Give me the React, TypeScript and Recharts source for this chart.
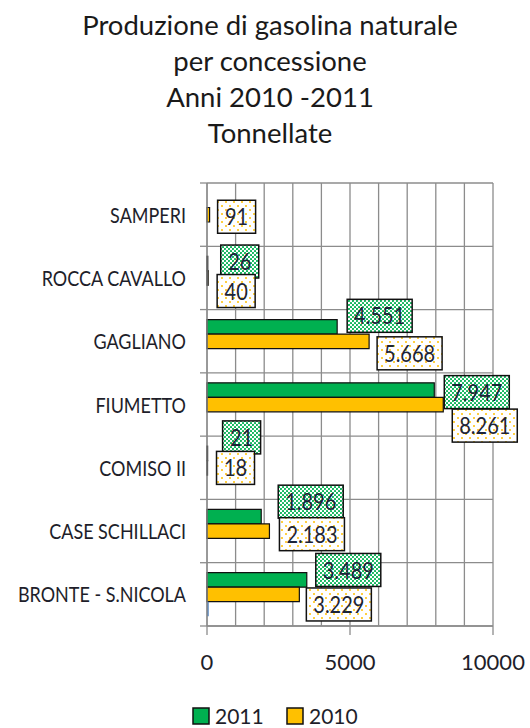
import React from "react";
import { BarChart, Bar, XAxis, YAxis, CartesianGrid, LabelList } from "recharts";

// dati (tonnellate)
const concessioni = ["SAMPERI", "ROCCA CAVALLO", "GAGLIANO", "FIUMETTO", "COMISO II", "CASE SCHILLACI", "BRONTE - S.NICOLA"];
const valori2011 = [null, 26, 4551, 7947, 21, 1896, 3489];
const valori2010 = [91, 40, 5668, 8261, 18, 2183, 3229];
const valoriAltro = [null, null, null, null, null, null, 60];
const tickValori = [0, 5000, 10000];
const passoGriglia = 1000;
const titolo = ["Produzione di gasolina naturale", "per concessione", "Anni 2010  -2011", "Tonnellate"];

// spostamento delle etichette [dx, dy] rispetto alla fine della barra
const spostamenti2011 = [[8, 0], [13, -2], [10, -11], [10, 2], [15, -16], [17, -15], [9, -10]];
const spostamenti2010 = [[8, 2], [9, 13], [8, 12], [9, 21], [9, 0], [10, 3], [7, 10]];

const VERDE = "#00B050";
const ARANCIO = "#FFC000";
const BLU = "#4F81BD";
const GRIGIO = "#8c8c8c";
const FONT = "Lato, 'Open Sans', sans-serif";

const W = 530;
const H = 728;
const TOP = 183;
const LEFT = 207;
const RIGHT = 37;
const BOTTOM = 102;
const ALTEZZA_BANDA = (H - TOP - BOTTOM) / concessioni.length;

const data = concessioni.map((nome, i) => ({
  nome,
  v2011: valori2011[i],
  v2010: valori2010[i],
  altro: valoriAltro[i],
}));

const formatta = (v: number) => v.toLocaleString("it-IT");

const creaEtichetta = (valori: (number | null)[], spostamenti: number[][], pattern: string) => (props: any) => {
  const { x, y, width, height, value } = props;
  if (value == null) return null;
  // l'indice di LabelList salta i valori nulli: cerco la concessione dal valore
  let i = valori.indexOf(Number(value));
  if (props.payload && props.payload.nome) i = concessioni.indexOf(props.payload.nome);
  const testo = formatta(Number(value));
  const w = testo.length <= 2 ? 38 : 65;
  const h = 33;
  const [dx, dy] = spostamenti[i] || [8, 0];
  const bx = Number(x) + Number(width) + dx;
  const cy = Number(y) + Number(height) / 2 + dy;
  return (
    <g>
      <rect x={bx} y={cy - h / 2} width={w} height={h} fill={`url(#${pattern})`} stroke="#111" strokeWidth={1.5} />
      <text
        transform={`translate(${bx + w / 2},${cy}) scale(1,1.15)`}
        textAnchor="middle"
        dominantBaseline="central"
        fontFamily={FONT}
        fontSize={20}
        fill="#1c2438"
      >
        {testo}
      </text>
    </g>
  );
};

const TickCategoria = (props: any) => {
  const { x, y, payload, index } = props;
  const xa = LEFT;
  return (
    <g>
      <line x1={xa - 7} x2={xa} y1={y - ALTEZZA_BANDA / 2} y2={y - ALTEZZA_BANDA / 2} stroke={GRIGIO} strokeWidth={1.3} />
      {index === concessioni.length - 1 && (
        <line x1={xa - 7} x2={xa} y1={y + ALTEZZA_BANDA / 2} y2={y + ALTEZZA_BANDA / 2} stroke={GRIGIO} strokeWidth={1.3} />
      )}
      <text
        transform={`translate(${x},${y}) scale(1,1.15)`}
        textAnchor="end"
        dominantBaseline="central"
        fontFamily={FONT}
        fontSize={18}
        fill="#1e1e2a"
      >
        {payload.value}
      </text>
    </g>
  );
};

const TickValore = (props: any) => {
  const { x, y, payload } = props;
  return (
    <text x={x} y={y} dy={35} textAnchor="middle" fontFamily={FONT} fontSize={22} fill="#1e1e2a">
      {payload.value}
    </text>
  );
};

const lineeVerticali = ({ xAxis, offset }: any) => {
  const pts: number[] = [];
  for (let v = 0; v <= 10000; v += passoGriglia) {
    const s = xAxis && xAxis.scale;
    const px = typeof s === "function" ? s(v) : undefined;
    pts.push(typeof px === "number" && !isNaN(px) ? px : offset.left + (offset.width * v) / 10000);
  }
  return pts;
};

const lineeOrizzontali = ({ offset }: any) => {
  const n = concessioni.length;
  return Array.from({ length: n + 1 }, (_, i) => offset.top + (offset.height * i) / n);
};

const App = () => {
  return (
    <div style={{ position: "absolute", left: 0, top: 0, width: W, height: H, background: "#fff", overflow: "hidden" }}>
      <BarChart
        width={W}
        height={H}
        data={data}
        layout="vertical"
        margin={{ top: TOP, right: RIGHT, bottom: BOTTOM - 60, left: 0 }}
        barSize={14.5}
        barGap={0}
      >
        <defs>
          <pattern id="puntiVerdi" width="4" height="4" patternUnits="userSpaceOnUse">
            <rect width="4" height="4" fill="#fff" />
            <circle cx="1" cy="1" r="1.05" fill={VERDE} />
            <circle cx="3" cy="3" r="1.05" fill={VERDE} />
          </pattern>
          <pattern id="puntiArancio" width="8" height="8" patternUnits="userSpaceOnUse">
            <rect width="8" height="8" fill="#fff" />
            <circle cx="2" cy="2" r="1" fill={ARANCIO} />
            <circle cx="6" cy="6" r="1" fill={ARANCIO} />
          </pattern>
        </defs>
        <CartesianGrid
          stroke={GRIGIO}
          strokeWidth={1.3}
          verticalCoordinatesGenerator={lineeVerticali}
          horizontalCoordinatesGenerator={lineeOrizzontali}
        />
        <XAxis
          type="number"
          domain={[0, 10000]}
          ticks={tickValori}
          interval={0}
          height={60}
          axisLine={{ stroke: GRIGIO, strokeWidth: 1.3 }}
          tickLine={{ stroke: GRIGIO, strokeWidth: 1.3 }}
          tickSize={9}
          tickMargin={0}
          tick={<TickValore />}
        />
        <YAxis
          type="category"
          dataKey="nome"
          width={LEFT}
          interval={0}
          axisLine={{ stroke: GRIGIO, strokeWidth: 1.3 }}
          tickLine={false}
          tickSize={0}
          tickMargin={21}
          tick={<TickCategoria />}
        />
        <Bar dataKey="v2011" name="2011" fill={VERDE} stroke="#111" strokeWidth={1.2} isAnimationActive={false}>
          <LabelList dataKey="v2011" content={creaEtichetta(valori2011, spostamenti2011, "puntiVerdi")} />
        </Bar>
        <Bar dataKey="v2010" name="2010" fill={ARANCIO} stroke="#111" strokeWidth={1.2} isAnimationActive={false}>
          <LabelList dataKey="v2010" content={creaEtichetta(valori2010, spostamenti2010, "puntiArancio")} />
        </Bar>
        <Bar dataKey="altro" name="" fill={BLU} legendType="none" isAnimationActive={false} />
      </BarChart>

      <svg width={W} height={160} style={{ position: "absolute", left: 0, top: 0 }}>
        {titolo.map((riga, i) => (
          <text
            key={riga}
            x={270}
            y={35 + i * 36}
            textAnchor="middle"
            fontFamily={FONT}
            fontSize={27.5}
            fill="#1a1a1a"
          >
            {riga}
          </text>
        ))}
      </svg>

      <svg width={W} height={28} style={{ position: "absolute", left: 0, top: 700 }}>
        {[
          { nome: "2011", colore: VERDE, x: 193 },
          { nome: "2010", colore: ARANCIO, x: 287 },
        ].map((voce) => (
          <g key={voce.nome}>
            <rect x={voce.x} y={8} width={16} height={16} fill={voce.colore} stroke="#111" strokeWidth={1.5} />
            <text x={voce.x + 22} y={24} fontFamily={FONT} fontSize={21} fill="#1e1e2a">
              {voce.nome}
            </text>
          </g>
        ))}
      </svg>
    </div>
  );
};

export default App;
